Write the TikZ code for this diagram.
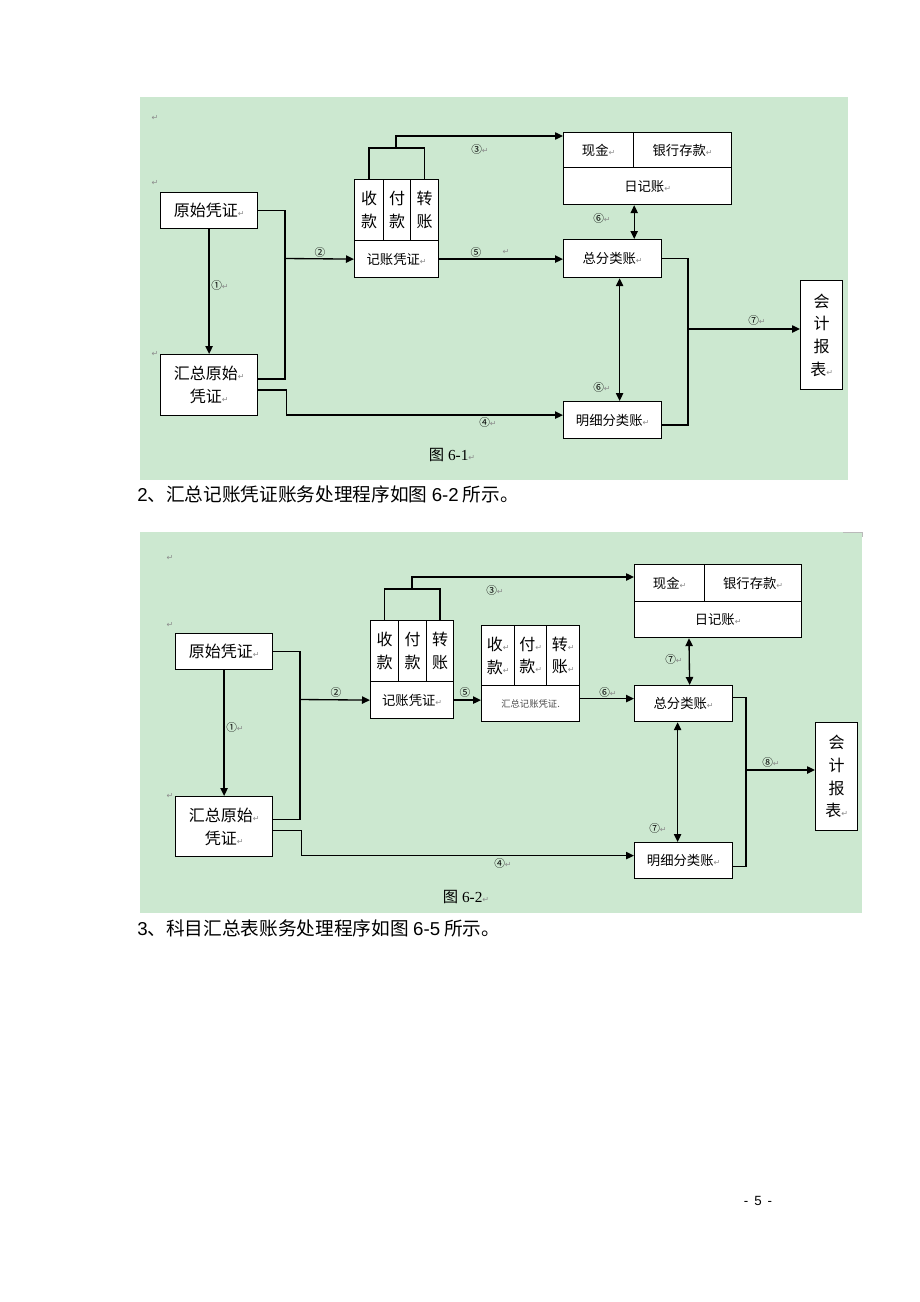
\documentclass[tikz,border=0pt]{standalone}
\usepackage{fontspec}
\setmainfont{Liberation Serif}
\newfontfamily\cjk{Noto Sans CJK SC}
\newfontfamily\dv{DejaVu Sans}
\newfontfamily\asans{Liberation Sans}
\usetikzlibrary{arrows.meta,calc}
\definecolor{bggreen}{RGB}{204,232,208}
\definecolor{rtgray}{RGB}{140,140,140}
\newcommand{\rt}{{\dv\fontsize{6}{6}\selectfont\color{rtgray}↵}}
\begin{document}
\begin{tikzpicture}[x=0.75pt,y=-0.75pt,
  box/.style={draw=black, line width=0.9pt, fill=white, inner sep=0pt, anchor=north west, align=center, font=\cjk\fontsize{10}{12}\selectfont},
  big/.style={font=\cjk\fontsize{12}{17}\selectfont},
  bx/.style 2 args={minimum width=#1*0.75pt, minimum height=#2*0.75pt},
  conn/.style={line width=1pt},
  arr/.style={conn, -{Triangle[length=6pt,width=5.5pt]}},
  darr/.style={conn, {Triangle[length=6pt,width=5.5pt]}-{Triangle[length=6pt,width=5.5pt]}},
  lbl/.style={inner sep=0pt, font=\cjk\fontsize{8}{8}\selectfont},
  rtm/.style={inner sep=0pt},
  figcap/.style={inner sep=0pt, font=\fontsize{11.5}{11.5}\selectfont},
  body/.style={inner sep=0pt, anchor=west, font=\cjk\fontsize{14}{14}\selectfont},
]
\useasboundingbox (0,0) rectangle (920,1302);
\fill[white] (0,0) rectangle (920,1302);

% ================= Figure 6-1 =================
\fill[bggreen] (140,97) rectangle (848,480);
\node[rtm] (r11) at (155,118) {\rt};
\node[rtm] (r12) at (155,183) {\rt};
\node[rtm] (r13) at (155,354) {\rt};

\node[box,big,bx={97}{36}] (ys1) at (160,192) {原始凭证\rt};
\node[box,big,bx={97}{61}] (hz1) at (160,354) {汇总原始\rt\\凭证\rt};
\node[box,big,bx={29}{61}] (sk) at (354,179) {收\\款};
\node[box,big,bx={27}{61}] (fk) at (383,179) {付\\款};
\node[box,big,bx={28}{61}] (zz) at (410,179) {转\\账};
\node[box,bx={84}{37}] (jzpz) at (354,240) {记账凭证\rt};
\node[box,bx={70}{35}] (xj) at (563,132) {现金\rt};
\node[box,bx={98}{35}] (yh) at (633,132) {银行存款\rt};
\node[box,bx={168}{37}] (rjz) at (563,167) {日记账\rt};
\node[box,bx={98}{38}] (zf) at (563,239) {总分类账\rt};
\node[box,bx={98}{37}] (mx) at (563,401) {明细分类账\rt};
\node[box,big,bx={42}{109}] (kb) at (800,280) {会\\计\\报\\表\rt};

\draw[arr] (ys1.south) -- (hz1.north);
\coordinate (J1) at (285,258.5);
\draw[conn] (ys1.east) -| (J1) |- ($(hz1.east)+(0,-6)$);
\draw[arr] (J1) -- (jzpz.west);
\draw[arr] ($(hz1.east)+(0,5)$) -- ++(28,0) |- ($(mx.west)+(0,-5)$);
\coordinate (B1) at (396,148);
\draw[conn] (sk.north) |- (B1) -| (zz.north);
\draw[arr] (B1) |- ($(xj.north west)+(0,4)$);
\draw[arr] (jzpz.east) -- (zf.west |- jzpz.east);
\draw[darr] (xj.south east |- rjz.south) -- (xj.south east |- zf.north);
\draw[darr] ($(zf.south)+(7,0)$) -- ($(mx.north)+(7,0)$);
\coordinate (R1) at (688,329);
\draw[conn] (zf.east) -| (R1) |- ($(mx.east)+(0,5)$);
\draw[arr] (R1) -- (kb.west |- R1);

\node[lbl] (t11) at (220,285) {①\rt};
\node[lbl] (t12) at (320,252) {②};
\node[lbl] (t13) at (480,149) {③\rt};
\node[lbl] (t15) at (476,252) {⑤};
\node[rtm] (t15r) at (506,252) {\rt};
\node[lbl] (t16a) at (602,218) {⑥\rt};
\node[lbl] (t16b) at (602,387) {⑥\rt};
\node[lbl] (t14) at (488,422) {④\rt};
\node[lbl] (t17) at (757,320) {⑦\rt};
\node[figcap] (cap1) at (452,455) {{\cjk 图} 6-1\rt};

\node[body] (p2) at (137,494) {{\asans 2}、汇总记账凭证账务处理程序如图 {\asans 6-2} 所示。};

% ================= Figure 6-2 =================
\fill[bggreen] (140,532) rectangle (862,913);
\draw[rtgray!60,line width=0.6pt] (843,532) -- (862,532) -- (862,537);
\node[rtm] (r21) at (170,558) {\rt};
\node[rtm] (r22) at (170,625) {\rt};
\node[rtm] (r23) at (170,796) {\rt};

\node[box,big,bx={97}{36}] (ys2) at (175,633) {原始凭证\rt};
\node[box,big,bx={97}{60}] (hz2) at (175,796) {汇总原始\rt\\凭证\rt};
\node[box,big,bx={28}{61}] (sk2) at (370,620) {收\\款};
\node[box,big,bx={28}{61}] (fk2) at (398,620) {付\\款};
\node[box,big,bx={27}{61}] (zz2) at (426,620) {转\\账};
\node[box,bx={83}{37}] (jzpz2) at (370,681) {记账凭证\rt};
\node[box,big,bx={33}{60}] (hsk) at (481,625) {收\rt\\款\rt};
\node[box,big,bx={32}{60}] (hfk) at (514,625) {付\rt\\款\rt};
\node[box,big,bx={33}{60}] (hzz) at (546,625) {转\rt\\账\rt};
\node[box,bx={98}{36},font=\cjk\fontsize{7}{8}\selectfont\color{black!70}] (hzpz) at (481,685) {汇总记账凭证.};
\node[box,bx={70}{37}] (xj2) at (634,564) {现金\rt};
\node[box,bx={97}{37}] (yh2) at (704,564) {银行存款\rt};
\node[box,bx={167}{36}] (rjz2) at (634,601) {日记账\rt};
\node[box,bx={98}{36}] (zf2) at (634,685) {总分类账\rt};
\node[box,bx={98}{36}] (mx2) at (634,842) {明细分类账\rt};
\node[box,big,bx={42}{108}] (kb2) at (815,722) {会\\计\\报\\表\rt};

\draw[arr] (ys2.south) -- (hz2.north);
\coordinate (J2) at (300,699.5);
\draw[conn] (ys2.east) -| (J2) |- ($(hz2.east)+(0,-7)$);
\draw[arr] (J2) -- (jzpz2.west);
\draw[arr] ($(hz2.east)+(0,4)$) -- ++(28,0) |- ($(mx2.west)+(0,-5)$);
\coordinate (B2) at (412,589);
\draw[conn] (sk2.north) |- (B2) -| (zz2.north);
\draw[arr] (B2) |- ($(xj2.north west)+(0,13)$);
\draw[arr] (jzpz2.east) -- (hzpz.west |- jzpz2.east);
\draw[arr] ($(hzpz.east)+(0,-5)$) -- ($(zf2.west)+(0,-5)$);
\draw[darr] ($(rjz2.south west)+(55,0)$) -- ($(zf2.north)+(6,0)$);
\draw[darr] ($(zf2.south)+(-6,0)$) -- ($(mx2.north)+(-6,0)$);
\coordinate (R2) at (746,770);
\draw[conn] ($(zf2.east)+(0,-6)$) -| (R2) |- ($(mx2.east)+(0,6)$);
\draw[arr] (R2) -- (kb2.west |- R2);

\node[lbl] (t21) at (235,727) {①\rt};
\node[lbl] (t22) at (336,692) {②};
\node[lbl] (t23) at (495,590) {③\rt};
\node[lbl] (t25) at (465,692) {⑤};
\node[lbl] (t26) at (608,692) {⑥\rt};
\node[lbl] (t27a) at (674,659) {⑦\rt};
\node[lbl] (t27b) at (658,828) {⑦\rt};
\node[lbl] (t24) at (503,863) {④\rt};
\node[lbl] (t28) at (771,762) {⑧\rt};
\node[figcap] (cap2) at (466,897) {{\cjk 图} 6-2\rt};

\node[body] (p3) at (137,928) {{\asans 3}、科目汇总表账务处理程序如图 {\asans 6-5} 所示。};

\node[inner sep=0pt, font=\asans\fontsize{10}{10}\selectfont] (pg) at (758,1201) {-\, 5\, -};
\end{tikzpicture}
\end{document}
